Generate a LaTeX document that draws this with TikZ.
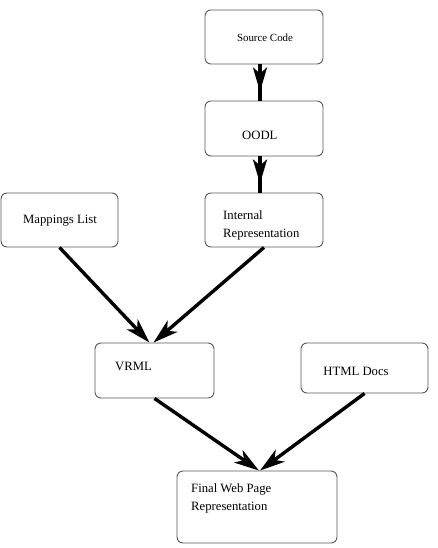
\documentclass[tikz,border=0pt]{standalone}
\usepackage{fontspec}
\setmainfont{Liberation Serif}
\usetikzlibrary{arrows.meta,decorations.markings}
\tikzset{
  box/.style={draw=black!65, line width=0.9pt, rounded corners=6pt, inner sep=0pt},
  txt/.style={inner sep=0pt, anchor=west, align=left, font=\fontsize{12.7}{18}\selectfont},
  conn/.style={line width=3.4pt, -{Stealth[length=25pt, width=15pt, inset=7pt]}},
  vconn/.style={line width=3.6pt, postaction={decorate}, decoration={markings,
      mark=at position -9pt with {\arrow{Stealth[length=24pt, width=14pt, inset=6pt]}}}}
}
\begin{document}
\begin{tikzpicture}[x=1pt, y=-1pt]
\useasboundingbox (0,0) rectangle (437,548);
% boxes
\node[box, minimum width=118pt, minimum height=54pt] (src) at (264,37) {};
\node[box, minimum width=118pt, minimum height=55pt] (oodl) at (264,128.5) {};
\node[box, minimum width=118pt, minimum height=54pt] (ir) at (264,220) {};
\node[box, minimum width=117pt, minimum height=54pt] (map) at (59.5,220) {};
\node[box, minimum width=119pt, minimum height=55pt] (vrml) at (154.5,370.5) {};
\node[box, minimum width=127pt, minimum height=50pt] (html) at (364.5,368) {};
\node[box, minimum width=160pt, minimum height=72pt] (final) at (257,507) {};
% texts
\node[inner sep=0pt, font=\fontsize{10.9}{13}\selectfont] (tsrc) at (265,38) {Source Code};
\node[txt] (toodl) at (242,135) {OODL};
\node[txt] (tir) at (223,225) {Internal\\Representation};
\node[inner sep=0pt, font=\fontsize{12.7}{15}\selectfont] (tmap) at (60,221) {Mappings List};
\node[txt] (tvrml) at (115,366) {VRML};
\node[inner sep=0pt, font=\fontsize{12.7}{15}\selectfont] (thtml) at (356,371) {HTML Docs};
\node[txt] (tfinal) at (191,498) {Final Web Page\\Representation};
% connectors
\draw[vconn] ([xshift=-4pt]src.south) -- ([xshift=-4pt]oodl.north);
\draw[vconn] ([xshift=-4pt]oodl.north |- oodl.south) -- ([xshift=-4pt]ir.north);
\draw[conn] (map.south) -- ([xshift=-5pt]vrml.north);
\draw[conn] (ir.south) -- ([xshift=-1pt]vrml.north);
\draw[conn] (vrml.south) -- ([xshift=2pt]final.north);
\draw[conn] (html.south) -- ([xshift=3pt]final.north);
\end{tikzpicture}
\end{document}
